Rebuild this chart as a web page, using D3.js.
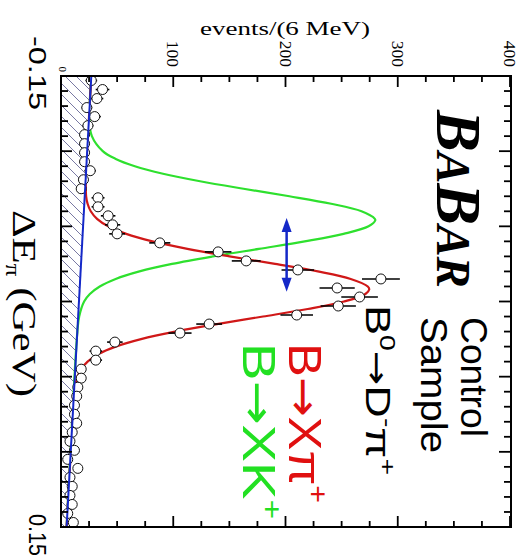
<!DOCTYPE html>
<html><head><meta charset="utf-8">
<script src="https://cdn.jsdelivr.net/npm/d3@7"></script>
<style>body{margin:0;background:#fff}svg{display:block}</style>
</head><body>
<script>
// ---- data (x-axis: ΔE_π in GeV, y-axis: events per 6 MeV) ----
const binCenters = [-0.147,-0.141,-0.135,-0.129,-0.123,-0.117,-0.111,-0.105,-0.099,-0.093,
  -0.087,-0.081,-0.075,-0.069,-0.063,-0.057,-0.051,-0.045,-0.039,-0.033,
  -0.027,-0.021,-0.015,-0.009,-0.003,0.003,0.009,0.015,0.021,0.027,
  0.033,0.039,0.045,0.051,0.057,0.063,0.069,0.075,0.081,0.087,
  0.093,0.099,0.105,0.111,0.117,0.123,0.129,0.135,0.141,0.147];
const counts = [27,37,32,23,30,24,21,21,21,21, 26,20,18,33,33,42,46,50,88,140,
  165,211,285,246,266,247,210,132,106,48, 31,31,18,18,15,14,12,12,14,10,
  8,12,6,15,8,10,8,10,6,11];
// background (blue line, hatched)
const bgE = [-0.15, 0.15];
const bgN = [27, 5];
// B -> X pi+ fit (red)
const redE = [-0.15,-0.10,-0.08,-0.07,-0.065,-0.06,-0.055,-0.05,-0.045,-0.04,-0.035,-0.03,-0.025,-0.02,-0.015,-0.01,-0.008,-0.005,0,0.005,0.01,0.015,0.02,0.025,0.03,0.035,0.04,0.045,0.05,0.06,0.07,0.10,0.15];
const redN = [27.0,23.3,22.1,22.4,23.7,26.5,32.1,42.1,58.1,81.4,112.6,150.2,190.7,228.8,258.1,273.3,274.6,271.2,252.1,219.8,180.0,138.9,101.6,71.3,48.7,33.3,23.7,18.0,14.7,12.0,10.9,8.7,5.0];
// B -> X K+ expectation (green)
const greenE = [-0.15,-0.12,-0.11,-0.10,-0.095,-0.09,-0.085,-0.08,-0.075,-0.07,-0.065,-0.06,-0.055,-0.054,-0.05,-0.045,-0.04,-0.035,-0.03,-0.025,-0.02,-0.015,-0.01,-0.005,0,0.01,0.02,0.15];
const greenN = [27.0,25.4,27.5,37.2,48.3,65.8,90.9,123.9,162.6,203.5,240.7,267.7,279.6,280.0,274.0,251.7,217.1,176.3,135.3,98.9,69.9,48.7,34.5,25.7,20.6,16.2,14.6,5.0];
// shift arrow
const arrowE = [-0.0555, -0.0065];
const arrowN = 201;
// ticks / labels
const yTickLabels = ["0","100","200","300","400"];
const yTickValues = [0,100,200,300,400];
const xTickValues = [-0.15, 0.15];
const xTickLabels = ["-0.15","0.15"];

const W = 525, H = 558;
const svg = d3.select("body").append("svg").attr("width",W).attr("height",H);
const serif = "'Liberation Serif','Times New Roman',serif";
const sans = "'Liberation Sans',Arial,Helvetica,sans-serif";
const arrowFont = "'DejaVu Sans',sans-serif";

// rotated chart: ΔE runs down the page, events run to the right
const yE = d3.scaleLinear().domain([-0.15,0.15]).range([76,527]);
const xN = d3.scaleLinear().domain([0,400]).range([61,510]);
const x0 = 61, x1 = 511, y0 = 76, y1 = 527;

// hatch pattern
const defs = svg.append("defs");
const pat = defs.append("pattern").attr("id","hatch").attr("patternUnits","userSpaceOnUse")
  .attr("width",11).attr("height",11);
pat.append("path").attr("d","M-2,-2 L13,13 M-2,9 L2,13 M9,-2 L13,2")
  .attr("stroke","#6a6a98").attr("stroke-width",0.9);

const bgPts = bgE.map((e,i)=>[e,bgN[i]]);
svg.append("path").datum(bgPts)
  .attr("d", d3.area().y(d=>yE(d[0])).x0(xN(0)).x1(d=>xN(d[1])))
  .attr("fill","url(#hatch)");

const line = d3.line().y(d=>yE(d[0])).x(d=>xN(d[1])).curve(d3.curveCatmullRom.alpha(0.5));
svg.append("path").datum(greenE.map((e,i)=>[e,greenN[i]])).attr("d",line)
  .attr("fill","none").attr("stroke","#2ee02e").attr("stroke-width",2.2);
svg.append("path").datum(redE.map((e,i)=>[e,redN[i]])).attr("d",line)
  .attr("fill","none").attr("stroke","#d01818").attr("stroke-width",2.2);

// data points with sqrt(N) error bars
const pts = binCenters.map((e,i)=>({e, n:counts[i], err:Math.sqrt(counts[i])}));
svg.append("g").selectAll("line").data(pts).join("line")
  .attr("y1",d=>yE(d.e)).attr("y2",d=>yE(d.e))
  .attr("x1",d=>xN(d.n-d.err)).attr("x2",d=>xN(d.n+d.err))
  .attr("stroke","#000").attr("stroke-width",1.6);
svg.append("g").selectAll("circle").data(pts).join("circle")
  .attr("cy",d=>yE(d.e)).attr("cx",d=>xN(d.n)).attr("r",5)
  .attr("fill","#fff").attr("stroke","#111").attr("stroke-width",1);

// background line on top
svg.append("path").datum(bgPts).attr("d",d3.line().y(d=>yE(d[0])).x(d=>xN(d[1])))
  .attr("fill","none").attr("stroke","#1428c8").attr("stroke-width",2);

// arrow
const ax = xN(arrowN), ya = yE(arrowE[0]), yb = yE(arrowE[1]);
svg.append("line").attr("x1",ax).attr("x2",ax).attr("y1",ya+8).attr("y2",yb-8)
  .attr("stroke","#1428c8").attr("stroke-width",2.5);
svg.append("path").attr("d",`M${ax},${ya} L${ax-5},${ya+14} L${ax+5},${ya+14} Z`).attr("fill","#1428c8");
svg.append("path").attr("d",`M${ax},${yb} L${ax-5},${yb-14} L${ax+5},${yb-14} Z`).attr("fill","#1428c8");

// frame
svg.append("rect").attr("x",x0).attr("y",y0).attr("width",x1-x0).attr("height",y1-y0)
  .attr("fill","none").attr("stroke","#000").attr("stroke-width",2);

// ticks
const tk = svg.append("g").attr("stroke","#000").attr("stroke-width",1.8);
d3.range(0,401,25).forEach(v=>{
  const major = v%100===0, L = major?11:6, x = xN(v);
  tk.append("line").attr("x1",x).attr("x2",x).attr("y1",y0).attr("y2",y0+L);
  tk.append("line").attr("x1",x).attr("x2",x).attr("y1",y1).attr("y2",y1-L);
});
d3.range(0,31).forEach(i=>{
  const e = -0.15 + i*0.01, major = i%5===0, y = yE(e);
  tk.append("line").attr("x1",x0).attr("x2",x0+(major?11:7)).attr("y1",y).attr("y2",y);
  tk.append("line").attr("x1",x1).attr("x2",x1-(major?12:7)).attr("y1",y).attr("y2",y);
});

const rot = (x,y)=>`translate(${x},${y}) rotate(90)`;
function rtext(x,y,font,size,anchor){
  return svg.append("text").attr("transform",rot(x,y)).attr("font-family",font)
    .attr("font-size",size).attr("text-anchor",anchor||"start").attr("fill","#000");
}
// y tick labels (top)
yTickValues.forEach((v,i)=>{
  const small = v===0;
  rtext(xN(v)-(small?2:6), small?72:67, serif, small?11:17.5, "end").text(yTickLabels[i]);
});
// x tick labels (left)
rtext(29, 36, sans, 23, "start").attr("textLength",74).attr("lengthAdjust","spacingAndGlyphs").text(xTickLabels[0]);
rtext(29, 514, sans, 23, "start").attr("textLength",42).attr("lengthAdjust","spacingAndGlyphs").text(xTickLabels[1]);

// axis titles
svg.append("text").attr("x",200).attr("y",35).attr("font-family",serif).attr("font-size",19)
  .attr("textLength",170).attr("lengthAdjust","spacingAndGlyphs").text("events/(6 MeV)");
const xt = rtext(13, 210, serif, 34, "start").attr("textLength",187).attr("lengthAdjust","spacingAndGlyphs");
xt.append("tspan").text("ΔE");
xt.append("tspan").attr("font-size",20).attr("dy",7).text("π");
xt.append("tspan").attr("dy",-7).text(" (GeV)");

// BABAR logo
const bb = rtext(437, 110, serif, 64, "start").attr("font-weight","bold").attr("font-style","italic")
  .attr("textLength",178).attr("lengthAdjust","spacingAndGlyphs");
bb.append("tspan").text("B");
bb.append("tspan").attr("font-size",48).text("A");
bb.append("tspan").text("B");
bb.append("tspan").attr("font-size",48).text("AR");

// control sample text
rtext(461, 317, sans, 36, "start").attr("textLength",120).attr("lengthAdjust","spacingAndGlyphs").text("Control");
rtext(421, 317, sans, 36, "start").attr("textLength",136).attr("lengthAdjust","spacingAndGlyphs").text("Sample");
const l3 = rtext(366, 305, sans, 35, "start").attr("textLength",170).attr("lengthAdjust","spacingAndGlyphs");
l3.append("tspan").text("B");
l3.append("tspan").attr("font-size",22).attr("dy",-14).text("0");
l3.append("tspan").attr("dy",14).attr("font-family",arrowFont).attr("font-size",32).text("→");
l3.append("tspan").text("D");
l3.append("tspan").attr("font-size",22).attr("dy",-14).text("-");
l3.append("tspan").attr("dy",14).text("π");
l3.append("tspan").attr("font-size",22).attr("dy",-14).text("+");

// legend-like labels
function label(x, color, name, len){
  const t = rtext(x, 343, sans, 47, "start").attr("fill",color)
    .attr("textLength",len).attr("lengthAdjust","spacingAndGlyphs");
  t.append("tspan").text("B");
  t.append("tspan").attr("font-family",arrowFont).attr("font-size",44).text("→");
  t.append("tspan").text(name);
  t.append("tspan").attr("font-size",28).attr("dy",-20).text("+");
  return t;
}
label(289, "#e01010", "Xπ", 160);
label(243, "#22e022", "XK", 176);
</script>
</body></html>
